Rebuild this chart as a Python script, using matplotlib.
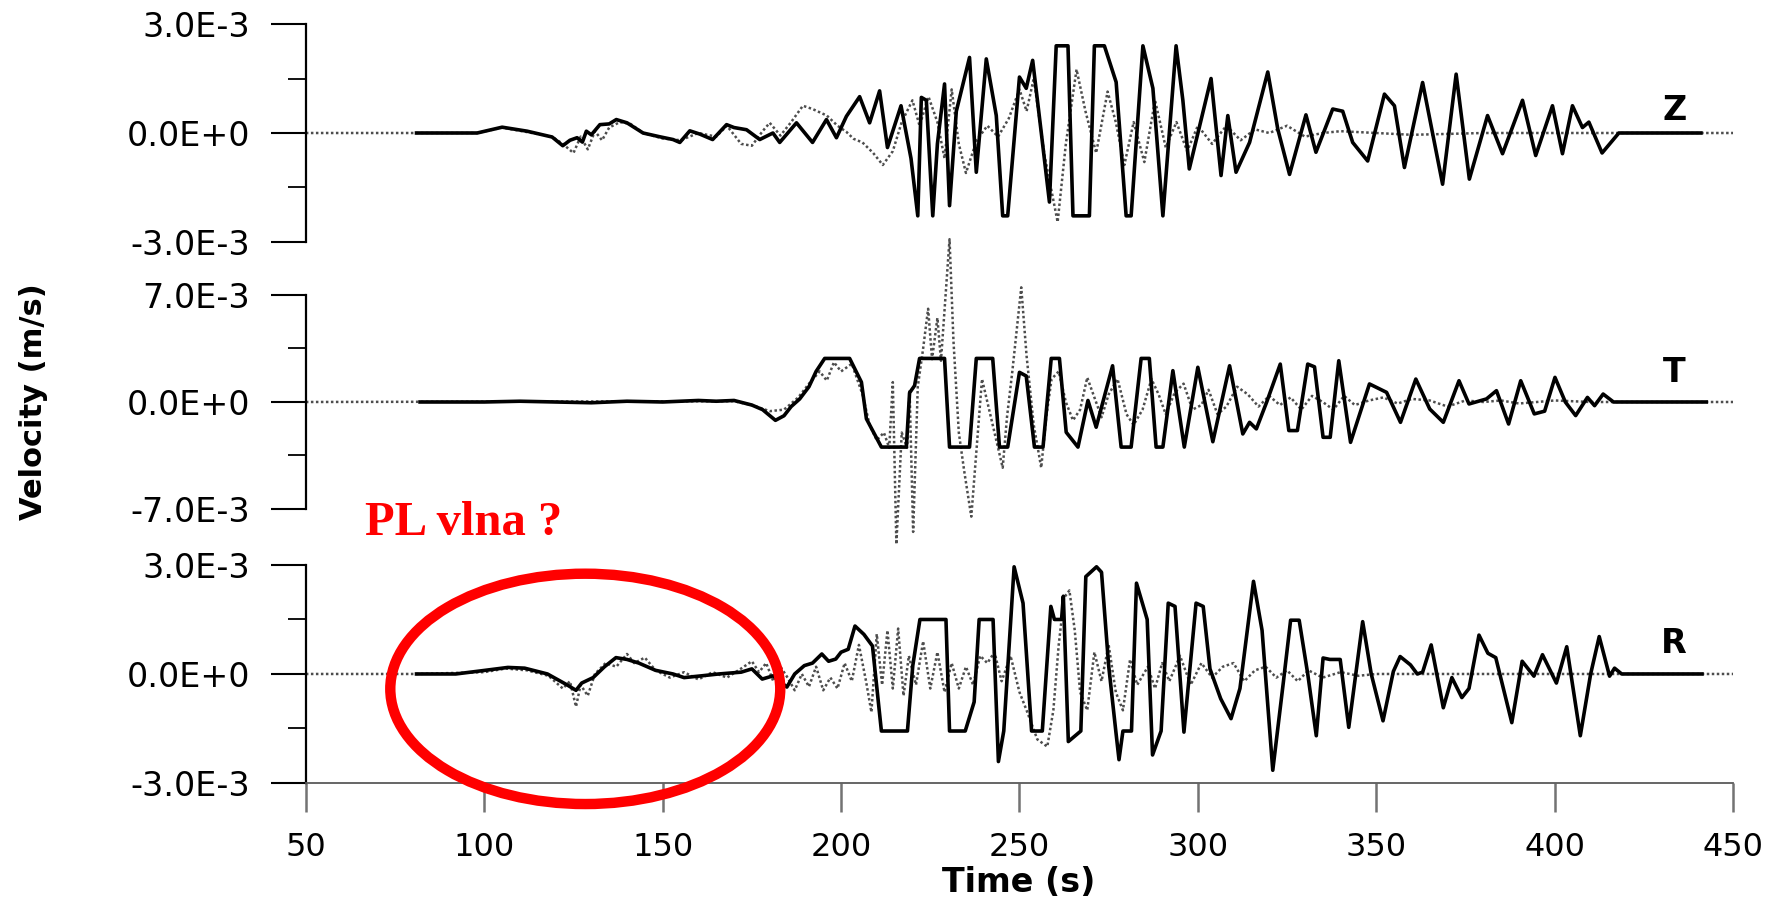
import matplotlib.pyplot as plt
import numpy as np
from matplotlib.patches import Ellipse

# values in 1e-3 m/s
z_obs_t = [81, 98, 105, 112, 119, 122, 124, 126, 127.5, 128.6, 130, 132.4, 135, 137, 140, 144.5, 149,
           152.9, 154.8, 157.6, 160.4, 164, 167.9, 170, 173.5, 177.2, 180.9, 182.8, 187.5, 192, 195.9,
           198.7, 201.5, 205.2, 208, 210.8, 213, 216.8, 219.6, 221.5, 222.5, 223.9, 225.7, 227, 229,
           230.4, 232.3, 236, 237.9, 240.7, 243.5, 245.3, 246.7, 250, 251.9, 253.7, 256.1, 258.4,
           260.3, 263.6, 265, 269.6, 271, 273.8, 277.1, 279.9, 281.3, 284.6, 287.4, 290.2, 293.9,
           295.8, 297.6, 303.7, 306.5, 308.4, 310.7, 314.5, 319.6, 322.4, 325.7, 330.3, 333.1, 337.8,
           340.6, 343.4, 347.6, 352.3, 355.1, 357.9, 363, 368.6, 372.4, 376.1, 381.2, 385.4, 391,
           394.7, 399.4, 402.2, 405, 407.8, 409.6, 413.3, 418, 441]
z_obs_v = [0, 0, 0.16, 0.05, -0.11, -0.35, -0.2, -0.13, -0.25, 0.05, -0.05, 0.23, 0.25, 0.37, 0.28, 0.0,
           -0.1, -0.18, -0.26, 0.06, -0.03, -0.18, 0.23, 0.15, 0.09, -0.18, 0.0, -0.26, 0.28, -0.26, 0.37,
           -0.13, 0.46, 1.0, 0.28, 1.16, -0.4, 0.75, -0.7, -2.28, 0.98, 0.9, -2.28, -0.3, 1.35,
           -2.0, 0.6, 2.08, -1.08, 2.04, 0.48, -2.28, -2.28, 1.54, 1.23, 2.0, 0.02, -1.9,
           2.4, 2.4, -2.28, -2.28, 2.4, 2.4, 1.4, -2.28, -2.28, 2.4, 1.23, -2.28, 2.4,
           0.9, -0.99, 1.5, -1.17, 0.48, -1.08, -0.26, 1.68, 0.11, -1.14, 0.5, -0.53, 0.66,
           0.6, -0.26, -0.77, 1.07, 0.75, -0.95, 1.39, -1.41, 1.62, -1.27, 0.48, -0.57, 0.9,
           -0.62, 0.75, -0.57, 0.75, 0.15, 0.3, -0.55, 0.0, 0.0]
z_syn_t = [50, 81, 98, 105, 119, 122, 125, 127, 129, 131, 133, 135, 138, 141, 144.5, 150, 155, 160, 165,
           168, 172, 175, 178, 180, 183, 186, 189.3, 192, 196, 199, 201.5, 203.5, 206, 209, 211.7,
           214.5, 217, 220, 222, 224.5, 227, 229, 231, 233, 235, 238, 241, 244, 247, 250, 252, 254,
           257, 260.7, 263, 266, 268.5, 271.5, 274.7, 277, 279.4, 282, 285, 288, 291, 294, 297, 300,
           304, 308, 312, 316, 320, 325, 330, 335, 340, 350, 360, 380, 450]
z_syn_v = [0, 0, 0, 0.15, -0.1, -0.3, -0.55, -0.1, -0.45, 0.05, -0.2, 0.15, 0.3, 0.25, 0.0, -0.15, -0.2,
           0.0, -0.1, 0.2, -0.3, -0.35, 0.05, 0.28, -0.07, 0.3, 0.75, 0.66, 0.48, 0.2, 0.03, -0.16,
           -0.26, -0.55, -0.88, -0.5, 0.3, 0.9, 0.2, 1.0, 0.3, -0.7, 1.2, -0.3, -1.1, -0.2, 0.2, -0.1,
           0.4, 1.2, 0.6, 1.5, -0.6, -2.45, -0.3, 1.75, 0.6, -0.55, 1.14, 0.3, -0.88, 0.3, -0.8, 0.9,
           -0.4, 0.3, -0.5, 0.2, -0.3, 0.2, -0.2, 0.1, 0.0, 0.2, -0.1, 0.0, 0.05, 0.0, -0.05, 0.0, 0]

t_obs_t = [82, 100, 110, 120, 130, 140, 150, 160, 165, 170, 175, 178, 181.6, 184, 186, 188.4, 191, 193,
           195.4, 202.4, 205.7, 207.1, 211.3, 218.3, 219.2, 220.6, 222, 229, 230.4, 236, 237.9, 242.5,
           244.4, 246.7, 250, 251.9, 254.2, 256.6, 258.9, 261.2, 263.1, 266.4, 269.2, 271.5, 276.1,
           278.5, 281.3, 284.1, 286.4, 288.3, 290.2, 293, 296.2, 300, 304.2, 308.9, 312.6, 314.5,
           316.4, 319.3, 323.1, 325.5, 327.9, 330.8, 332.7, 335.1, 337.1, 339.5, 342.8, 348.1, 352.9,
           356.8, 361.1, 365, 368.8, 373.2, 376, 380.9, 383.7, 387.1, 390.5, 394.3, 397.2, 400.1,
           403, 405.9, 409.2, 411.2, 413.6, 416.5, 442.5]
t_obs_v = [0, 0, 0.05, 0.0, -0.05, 0.05, 0.0, 0.1, 0.05, 0.1, -0.2, -0.5, -1.2, -0.9, -0.3, 0.2, 1.0, 2.0,
           2.85, 2.85, 1.3, -1.1, -2.95, -2.95, 0.6, 1.07, 2.85, 2.85, -2.95, -2.95, 2.85, 2.85,
           -2.95, -2.95, 1.94, 1.7, -2.95, -2.95, 2.85, 2.85, -1.98, -2.95, 0.1, -1.65, 2.37,
           -2.95, -2.95, 2.85, 2.85, -2.95, -2.95, 2.05, -2.95, 2.27, -2.6, 2.37, -2.09, -1.33,
           -1.76, 0.0, 2.48, -1.87, -1.87, 2.48, 2.3, -2.31, -2.31, 2.7, -2.64, 1.18, 0.63,
           -1.33, 1.5, -0.46, -1.33, 1.39, -0.13, 0.2, 0.74, -1.44, 1.39, -0.78, -0.6, 1.61,
           0.0, -0.89, 0.3, -0.24, 0.52, 0.0, 0.0]
t_syn_t = [50, 170, 175, 180, 184, 188, 191, 194, 196, 198, 200, 203, 206, 208, 210, 212, 213.5, 214.5,
           215.5, 217, 218.5, 219.2, 220.2, 221.5, 223, 224.4, 225.5, 227, 228, 230.4, 231.5, 233,
           234.5, 236.5, 238, 239.5, 241, 243, 245.3, 246.5, 248, 250.5, 252, 254, 256.1, 257.5, 259,
           261, 263, 265, 267, 269, 271, 273, 275, 277.5, 280, 282, 284.5, 287, 289, 291, 293.5, 296,
           298.5, 301, 303, 305.5, 308, 311, 314, 317, 320, 323, 326, 329, 332, 335, 338, 341, 344,
           348, 352, 356, 360, 365, 370, 375, 380, 385, 390, 400, 410, 450]
t_syn_v = [0, 0.05, -0.2, -0.6, -0.5, 0.3, 1.2, 2.0, 1.4, 2.6, 2.0, 2.5, 0.5, -1.5, -2.5, -2.0, -3.0, 1.3,
           -9.3, -2.0, -3.0, 0.8, -8.5, 1.0, 3.5, 6.1, 2.8, 5.5, 2.7, 10.65, 4.0, -2.0,
           -4.5, -7.5, -3.0, 1.5, 0.0, -2.0, -4.3, -1.0, 2.0, 7.5, 3.0, -1.5, -4.3, -1.0, 1.5,
           2.0, 0.0, -1.2, -0.5, 1.6, 0.3, -1.0, 0.5, 1.5, -0.8, -1.5, -0.5, 1.5, 0.5, -0.8, 0.6, 1.2,
           -0.5, -0.2, 0.8, -0.8, -0.3, 1.0, 0.5, -0.3, 0.4, -0.2, 0.3, -0.5, 0.4, 0.0, -0.5, 0.4, -0.2,
           0.1, 0.3, -0.1, 0.2, 0.1, -0.3, 0.1, 0.0, 0.1, -0.1, 0.1, 0.0, 0]

r_obs_t = [81, 92, 98.6, 106.6, 111.3, 117.7, 123.2, 125.7, 127.3, 130.5, 133.7, 136.9, 140, 143.3, 148,
           152.9, 156, 161, 165.7, 172, 175, 177.9, 181, 184.8, 187, 189.7, 192, 194.6, 196.5, 198.5,
           200, 202, 203.9, 206.4, 208.8, 211.3, 218.6, 220.1, 222.1, 229.4, 230.4, 234.8, 237.3,
           238.7, 242.6, 244.1, 245.6, 248.5, 251, 253.4, 256.4, 258.8, 259.8, 261.8, 262.3, 263.7,
           267.2, 268.6, 271.6, 273, 275, 277, 277.9, 279, 281.4, 282.8, 285.8, 287.3, 289.7, 291.7,
           293.6, 296.1, 299.5, 301.5, 303.4, 306.4, 309.3, 311.8, 315.6, 318, 321, 324, 326, 328.4,
           330.8, 333.2, 335.1, 337, 339.9, 342.3, 346.2, 348.6, 351.9, 354.8, 356.7, 359.6, 361.5,
           363, 365.4, 368.8, 371.2, 374, 376, 378.8, 381.3, 383.5, 388, 390.9, 394.2, 396.6, 400.5,
           403.4, 407.2, 410.1, 412.5, 415.4, 416.8, 418.8, 441.3]
r_obs_v = [0, 0, 0.08, 0.18, 0.16, 0.0, -0.3, -0.45, -0.25, -0.1, 0.2, 0.45, 0.4, 0.3, 0.1,
           0.0, -0.1, -0.05, 0.0, 0.05, 0.14, -0.14, -0.05, -0.36, 0.0, 0.23, 0.3, 0.55, 0.35, 0.41,
           0.6, 0.68, 1.32, 1.09, 0.77, -1.57, -1.57, 0.23, 1.5, 1.5, -1.57, -1.57, -0.77,
           1.5, 1.5, -2.41, -1.57, 2.95, 1.95, -1.57, -1.57, 1.86, 1.5, 1.5, 2.14, -1.86,
           -1.57, 2.68, 2.95, 2.8, 0.23, -1.57, -2.36, -1.57, -1.57, 2.5, 1.5, -2.23, -1.57, 1.95,
           1.86, -1.6, 1.95, 1.86, 0.14, -0.68, -1.23, -0.4, 2.55, 1.2, -2.65, -0.2, 1.48, 1.48,
           0.0, -1.7, 0.44, 0.4, 0.4, -1.47, 1.44, 0.0, -1.29, 0.07, 0.48, 0.25, 0.0,
           0.05, 0.8, -0.93, -0.1, -0.65, -0.4, 1.07, 0.57, 0.45, -1.34, 0.35, -0.06, 0.53, -0.25,
           0.75, -1.7, 0.0, 1.03, -0.06, 0.16, 0.0, 0.0]
r_syn_t = [50, 81, 100, 106, 112, 118, 122, 124, 125.7, 127, 129, 131, 134, 137, 140, 142, 145, 148, 152,
           156, 160, 164, 168, 172, 175, 177, 179, 181, 183, 185, 187, 189, 191, 193, 195, 197, 199,
           201, 203, 205, 207, 208.5, 210, 211.5, 213, 214.5, 216, 217.5, 219, 221, 223, 225, 227,
           229, 231, 233, 235, 237, 239, 241, 243, 245, 247.5, 250, 252, 255, 257.8, 259.5, 261,
           262.5, 264, 265.5, 267, 269, 271, 273, 275, 277, 279, 281, 283, 286, 288, 290, 292, 295,
           298, 301, 304, 307, 310, 313, 316, 319, 322, 325, 328, 331, 335, 340, 345, 350, 450]
r_syn_v = [0, 0, 0.05, 0.15, 0.1, -0.05, -0.4, -0.2, -0.9, -0.3, -0.6, 0.0, 0.3, 0.2, 0.55, 0.3, 0.45,
           0.1, -0.1, 0.05, -0.15, 0.05, -0.1, 0.15, 0.35, 0.05, 0.3, -0.2, 0.2, -0.1, -0.45, 0.0,
           -0.35, 0.2, -0.45, -0.1, -0.4, 0.3, -0.2, 0.8, -0.2, -1.05, 1.1, -0.3, 1.2, -0.4, 1.25,
           -0.6, 0.5, -0.3, 0.9, -0.4, 0.6, -0.5, 0.3, -0.4, 0.2, -0.3, 0.5, 0.3, 0.6, -0.2, 0.5,
           -0.5, -1.0, -1.8, -2.0, -1.0, 0.8, 2.1, 2.3, 1.2, -0.5, -1.0, 0.6, -0.2, 0.8, -0.5, -1.0,
           0.4, -0.3, 0.2, -0.4, 0.3, -0.2, 0.5, -0.3, 0.3, -0.1, 0.2, 0.3, -0.2, 0.1, 0.2, -0.1,
           0.1, -0.2, 0.1, -0.1, 0.05, -0.05, 0.0, 0]

components = ["Z", "T", "R"]
y_limits = [3.0, 7.0, 3.0]
y_tick_labels = [["-3.0E-3", "0.0E+0", "3.0E-3"],
                 ["-7.0E-3", "0.0E+0", "7.0E-3"],
                 ["-3.0E-3", "0.0E+0", "3.0E-3"]]
label_pos = [(433.5, 0.63), (433.5, 1.9), (433.5, 0.85)]
x_ticks = [50, 100, 150, 200, 250, 300, 350, 400, 450]

observed = [(z_obs_t, z_obs_v), (t_obs_t, t_obs_v), (r_obs_t, r_obs_v)]
synthetic = [(z_syn_t, z_syn_v), (t_syn_t, t_syn_v), (r_syn_t, r_syn_v)]

fig = plt.figure(figsize=(17.89, 9.06), dpi=100)
rects = [[0.1710, 0.7329, 0.7977, 0.2406],
         [0.1710, 0.4382, 0.7977, 0.2362],
         [0.1710, 0.1358, 0.7977, 0.2406]]

axes = []
for i, comp in enumerate(components):
    ax = fig.add_axes(rects[i])
    lim = y_limits[i] * 1e-3
    st, sv = synthetic[i]
    ot, ov = observed[i]
    ax.plot(st, np.array(sv) * 1e-3, color="0.3", lw=1.8, ls=(0, (1, 1)), clip_on=False, zorder=2)
    ax.plot(ot, np.array(ov) * 1e-3, color="black", lw=2.6, clip_on=False, zorder=3,
            solid_joinstyle="round")
    ax.set_xlim(50, 450)
    ax.set_ylim(-lim, lim)
    ax.set_yticks([-lim, 0, lim])
    ax.set_yticklabels(y_tick_labels[i])
    ax.set_yticks([-lim / 2, lim / 2], minor=True)
    ax.tick_params(axis="y", which="major", direction="out", length=25, width=1.5,
                   pad=15, labelsize=24)
    ax.tick_params(axis="y", which="minor", direction="out", length=13, width=1.3)
    for side in ["top", "right"]:
        ax.spines[side].set_visible(False)
    ax.spines["left"].set_linewidth(1.6)
    ax.patch.set_alpha(0)
    lx, lv = label_pos[i]
    ax.text(lx, lv * 1e-3, comp, ha="center", va="center", fontsize=24, fontweight="bold")
    if i < 2:
        ax.spines["bottom"].set_visible(False)
        ax.set_xticks([])
    else:
        ax.spines["bottom"].set_linewidth(1.3)
        ax.spines["bottom"].set_color("0.35")
        ax.set_xticks(x_ticks)
        ax.set_xticklabels([str(v) for v in x_ticks])
        ax.tick_params(axis="x", direction="out", length=21, width=1.8, pad=14,
                       labelsize=23, color="0.45")
    axes.append(ax)

ax = axes[2]
ax.add_patch(Ellipse((128.3, -0.41e-3), 109.3, 6.34e-3, fill=False, edgecolor="red",
                     lw=7.5, clip_on=False, zorder=5))

fig.text(365 / 1789, 1 - 523 / 906, "PL vlna ?", color="red", fontsize=35, fontweight="bold",
         family="Liberation Serif", ha="left", va="center")
fig.text(1019 / 1789, 1 - 882 / 906, "Time (s)", fontsize=24, fontweight="bold",
         ha="center", va="center")
fig.text(34 / 1789, 1 - 402 / 906, "Velocity (m/s)", fontsize=22, fontweight="bold",
         rotation=90, ha="center", va="center")

fig.savefig("out.png", dpi=100)
